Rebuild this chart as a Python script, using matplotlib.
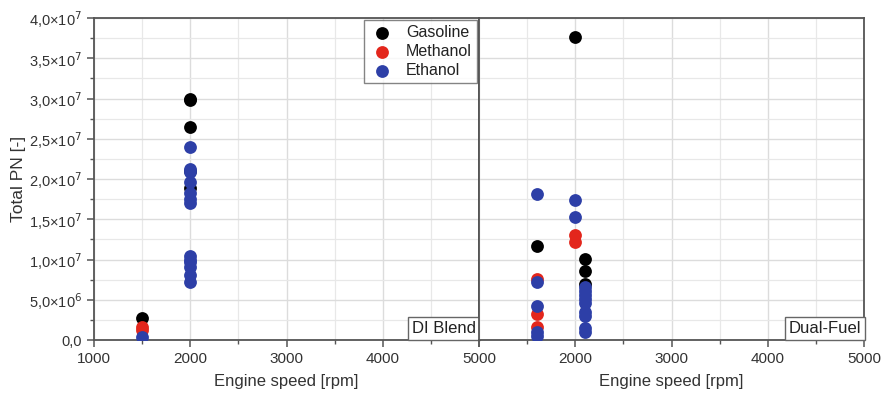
import matplotlib
matplotlib.use("Agg")
import matplotlib.pyplot as plt
from matplotlib.ticker import MultipleLocator, FuncFormatter

plt.rcParams['font.family'] = ['Liberation Sans', 'DejaVu Sans']

fuels = ["Gasoline", "Methanol", "Ethanol"]
colors = ["#000000", "#e3261c", "#2d3fa7"]

# DI Blend panel
di_gas_x = [1500, 2000, 2000, 2000, 2000, 2000]
di_gas_y = [2.7e6, 30.0e6, 29.8e6, 26.5e6, 21.0e6, 18.9e6]
di_met_x = [1500, 1500]
di_met_y = [1.6e6, 1.2e6]
di_eth_x = [1500, 2000, 2000, 2000, 2000, 2000, 2000, 2000,
            2000, 2000, 2000, 2000, 2000, 2000]
di_eth_y = [0.4e6, 24.0e6, 21.3e6, 20.9e6, 19.6e6, 18.2e6, 17.5e6, 17.0e6,
            10.4e6, 10.0e6, 9.7e6, 9.1e6, 8.1e6, 7.2e6]

# Dual-Fuel panel
df_gas_x = [2000, 1600, 2100, 2100, 2100]
df_gas_y = [37.6e6, 11.7e6, 10.1e6, 8.6e6, 7.0e6]
df_met_x = [2000, 2000, 1600, 1600, 1600]
df_met_y = [13.0e6, 12.2e6, 7.6e6, 3.2e6, 1.6e6]
df_eth_x = [1600, 2000, 2000, 1600, 1600, 1600, 1600,
            2100, 2100, 2100, 2100, 2100, 2100, 2100, 2100, 2100]
df_eth_y = [18.1e6, 17.4e6, 15.3e6, 7.2e6, 4.2e6, 1.0e6, 0.5e6,
            6.6e6, 6.1e6, 5.6e6, 5.1e6, 4.6e6, 3.5e6, 3.0e6, 1.5e6, 1.0e6]

panel_labels = ["DI Blend", "Dual-Fuel"]
x_label = "Engine speed [rpm]"
y_label = "Total PN [-]"

fig = plt.figure(figsize=(8.82, 3.94), dpi=100)
ax1 = fig.add_axes([94/882, 1-340/394, (479-94)/882, (340-18)/394])
ax2 = fig.add_axes([479/882, 1-340/394, (864-479)/882, (340-18)/394], sharey=ax1)

spine_col = "#555555"

def ytick_fmt(v, pos):
    if v == 0:
        return "0,0"
    exp = 0
    m = v
    while abs(m) >= 10:
        m /= 10
        exp += 1
    s = f"{m:.1f}".replace(".", ",")
    return s + "×10$^{" + str(exp) + "}$"

def xtick_fmt_right(v, pos):
    if abs(v - 1000) < 1:
        return ""
    return f"{int(round(v))}"

datasets = [
    (ax1, [(di_gas_x, di_gas_y), (di_met_x, di_met_y), (di_eth_x, di_eth_y)]),
    (ax2, [(df_gas_x, df_gas_y), (df_met_x, df_met_y), (df_eth_x, df_eth_y)]),
]

for i, (ax, data) in enumerate(datasets):
    for (xs, ys), c, lab in zip(data, colors, fuels):
        ax.scatter(xs, ys, s=85, color=c, label=lab, zorder=3, linewidths=0)
    ax.set_xlim(1000, 5000)
    ax.set_ylim(0, 4.0e7)
    ax.xaxis.set_major_locator(MultipleLocator(1000))
    ax.xaxis.set_minor_locator(MultipleLocator(500))
    ax.yaxis.set_major_locator(MultipleLocator(5e6))
    ax.yaxis.set_minor_locator(MultipleLocator(2.5e6))
    ax.grid(which="major", color="#dcdcdc", linewidth=1.0, zorder=0)
    ax.grid(which="minor", color="#e8e8e8", linewidth=0.9, zorder=0)
    ax.set_axisbelow(True)
    for sp in ax.spines.values():
        sp.set_color(spine_col)
        sp.set_linewidth(1.3)
    ax.tick_params(which="major", direction="out", length=5, width=1.1,
                   color=spine_col, labelsize=11, labelcolor="#333333")
    ax.tick_params(which="minor", direction="out", length=3, width=1.0,
                   color=spine_col)
    ax.set_xlabel(x_label, fontsize=12, color="#333333", labelpad=6)
    ax.text(0.993, 0.012, panel_labels[i], transform=ax.transAxes,
            ha="right", va="bottom", fontsize=12, color="#222222", zorder=5,
            bbox=dict(boxstyle="square,pad=0.25", fc="white", ec="#666666", lw=1.0))

ax1.yaxis.set_major_formatter(FuncFormatter(ytick_fmt))
ax1.tick_params(axis="y", labelsize=10.5)
ax1.set_ylabel(y_label, fontsize=12.5, color="#333333", labelpad=2)
ax2.tick_params(axis="y", which="both", left=False, labelleft=False)
ax2.xaxis.set_major_formatter(FuncFormatter(xtick_fmt_right))

leg = ax1.legend(loc="upper right", frameon=True, fancybox=False, fontsize=11.5,
                 handletextpad=0.7, borderpad=0.3, labelspacing=0.25,
                 handlelength=1.6, markerscale=1.0, borderaxespad=0.15)
leg.get_frame().set_edgecolor("#666666")
leg.get_frame().set_linewidth(1.0)
for t in leg.get_texts():
    t.set_color("#222222")

fig.savefig("out.png", dpi=100)
